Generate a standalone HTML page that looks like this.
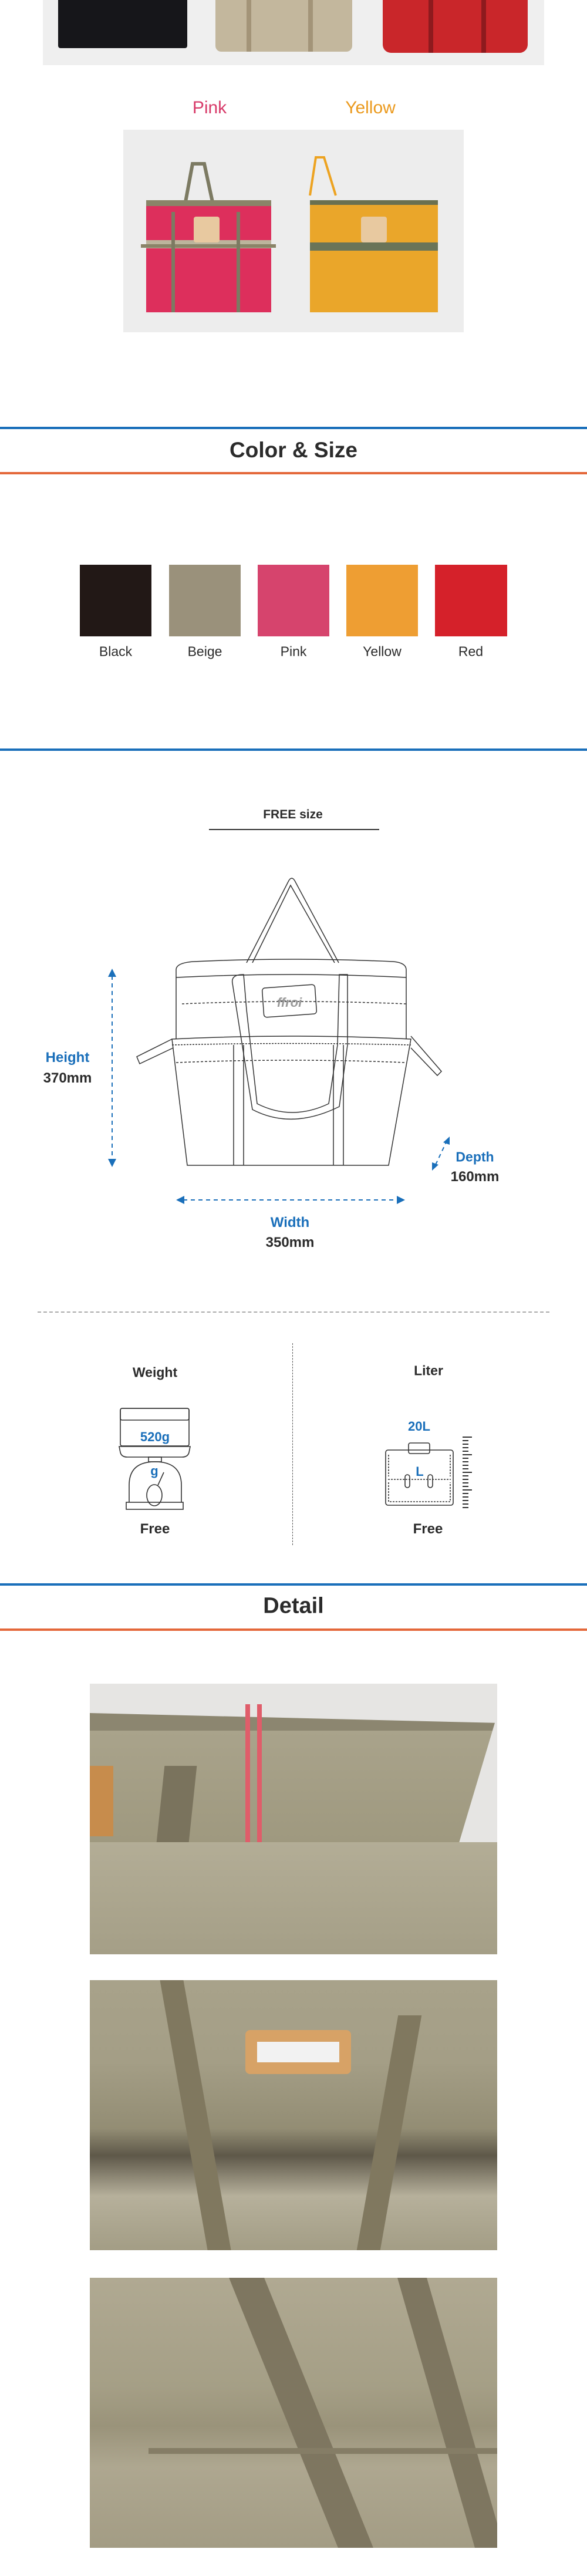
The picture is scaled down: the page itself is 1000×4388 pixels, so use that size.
<!DOCTYPE html>
<html><head><meta charset="utf-8">
<style>
*{margin:0;padding:0;box-sizing:border-box}
body{width:1000px;height:4388px;position:relative;background:#fff;font-family:"Liberation Sans",sans-serif;overflow:hidden}
.a{position:absolute}
.t{position:absolute;transform:translate(-50%,-50%);white-space:nowrap;font-weight:bold;color:#2b2b2b}
.hl{position:absolute;left:0;width:1000px;height:4px}
.blue{color:#1a6fba}
</style></head><body>

<!-- top photo strip -->
<div class="a" style="left:73px;top:0;width:854px;height:111px;background:#efefef"></div>
<div class="a" style="left:99px;top:0;width:220px;height:82px;background:#16161a;border-radius:0 0 4px 4px"></div>
<div class="a" style="left:367px;top:0;width:233px;height:88px;background:#c3b79d;border-radius:0 0 10px 10px"></div>
<div class="a" style="left:420px;top:0;width:8px;height:88px;background:#a39478"></div>
<div class="a" style="left:525px;top:0;width:8px;height:88px;background:#a39478"></div>
<div class="a" style="left:652px;top:0;width:247px;height:90px;background:#c9262a;border-radius:0 0 14px 14px"></div>
<div class="a" style="left:730px;top:0;width:8px;height:90px;background:#8e1a1e"></div>
<div class="a" style="left:820px;top:0;width:8px;height:90px;background:#8e1a1e"></div>

<div class="t" style="left:357px;top:184px;font-size:30px;font-weight:normal;color:#d83b6a">Pink</div>
<div class="t" style="left:631px;top:184px;font-size:30px;font-weight:normal;color:#eb9a1e">Yellow</div>

<div class="a" style="left:210px;top:221px;width:580px;height:345px;background:#ededed"></div>
<svg class="a" style="left:210px;top:221px" width="580" height="345">
  <path d="M106 123 L118 58 L138 58 L152 123" fill="none" stroke="#7c7a62" stroke-width="6"/>
  <rect x="39" y="123" width="213" height="188" fill="#dd2f5c"/>
  <rect x="39" y="120" width="213" height="10" fill="#8a8468"/>
  <rect x="39" y="188" width="213" height="14" fill="#bcb49c"/>
  <rect x="30" y="195" width="230" height="6" fill="#8a8468"/>
  <path d="M85 140 L85 311 M196 140 L196 311" stroke="#7c7a62" stroke-width="6"/>
  <rect x="120" y="148" width="44" height="44" rx="4" fill="#e8c9a0"/>
  <path d="M318 112 L328 47 L342 47 L362 112" fill="none" stroke="#eda321" stroke-width="4"/>
  <rect x="318" y="125" width="218" height="186" fill="#eaa62a"/>
  <rect x="318" y="120" width="218" height="8" fill="#6a7050"/>
  <rect x="318" y="192" width="218" height="14" fill="#6a7458"/>
  <rect x="405" y="148" width="44" height="44" rx="4" fill="#e8c9a0"/>
</svg>

<!-- Color & Size -->
<div class="hl" style="top:727px;background:#1a6fba"></div>
<div class="t" style="left:500px;top:767px;font-size:37px">Color &amp; Size</div>
<div class="hl" style="top:804px;background:#e4683a"></div>

<div class="a" style="left:136px;top:962px;width:122px;height:122px;background:#221816"></div>
<div class="a" style="left:288px;top:962px;width:122px;height:122px;background:#9a917b"></div>
<div class="a" style="left:439px;top:962px;width:122px;height:122px;background:#d6446d"></div>
<div class="a" style="left:590px;top:962px;width:122px;height:122px;background:#ee9e33"></div>
<div class="a" style="left:741px;top:962px;width:123px;height:122px;background:#d5212a"></div>
<div class="t" style="left:197px;top:1110px;font-size:23px;font-weight:normal">Black</div>
<div class="t" style="left:349px;top:1110px;font-size:23px;font-weight:normal">Beige</div>
<div class="t" style="left:500px;top:1110px;font-size:23px;font-weight:normal">Pink</div>
<div class="t" style="left:651px;top:1110px;font-size:23px;font-weight:normal">Yellow</div>
<div class="t" style="left:802px;top:1110px;font-size:23px;font-weight:normal">Red</div>

<div class="hl" style="top:1275px;background:#1a6fba"></div>

<!-- size -->
<div class="t" style="left:499px;top:1388px;font-size:21px">FREE size</div>
<div class="a" style="left:356px;top:1412px;width:290px;height:2px;background:#333"></div>

<svg class="a" style="left:0;top:1480px" width="1000" height="560">
  <g fill="none" stroke="#333" stroke-width="1.5">
    <path d="M420 160 L492 20 Q497 12 502 20 L577 160"/>
    <path d="M430 160 L495 28 L570 160"/>
    <path d="M300 172 Q300 160 330 158 Q497 150 670 158 Q692 160 692 172 L692 290"/>
    <path d="M300 185 Q497 175 692 185"/>
    <path d="M300 172 L300 290"/>
    <path d="M293 290 Q497 280 700 290 L662 505 L319 505 Z"/>
    <path d="M293 300 Q497 295 700 300" stroke-dasharray="3 2"/>
    <path d="M293 290 L233 320 L238 332 L295 305"/>
    <path d="M700 285 L752 345 L745 352 L700 305"/>
    <path d="M398 300 L398 505 M415 300 L415 505 M568 300 L568 505 M585 300 L585 505"/>
    <path d="M396 195 Q393 180 415 180 L420 240 L438 400 Q497 430 560 400 L575 300 L578 180 L592 180 L592 300 L578 405 Q497 445 430 410 Z"/>
    <rect x="448" y="200" width="90" height="50" rx="5" transform="rotate(-4 493 225)"/>
    <path d="M310 230 Q497 222 692 230" stroke-dasharray="4 3"/>
    <path d="M300 330 Q497 322 692 330" stroke-dasharray="4 3"/>
  </g>
  <text x="493" y="235" font-size="22" font-weight="bold" font-style="italic" fill="#999" text-anchor="middle" font-family="Liberation Sans">ffroi</text>
</svg>

<!-- arrows -->
<svg class="a" style="left:0;top:1600px" width="1000" height="480">
  <g stroke="#1a6fba" stroke-width="2" stroke-dasharray="7 6" fill="none">
    <line x1="191" y1="62" x2="191" y2="376"/>
    <line x1="312" y1="444" x2="678" y2="444"/>
    <line x1="742" y1="384" x2="760" y2="346"/>
  </g>
  <g fill="#1a6fba">
    <polygon points="191,50 184,64 198,64"/>
    <polygon points="191,388 184,374 198,374"/>
    <polygon points="300,444 314,437 314,451"/>
    <polygon points="690,444 676,437 676,451"/>
    <polygon points="766,336 755,346 766,350"/>
    <polygon points="736,394 736,380 747,384"/>
  </g>
</svg>
<div class="t blue" style="left:115px;top:1802px;font-size:24px">Height</div>
<div class="t" style="left:115px;top:1837px;font-size:24px">370mm</div>
<div class="t blue" style="left:809px;top:1971px;font-size:23px">Depth</div>
<div class="t" style="left:809px;top:2005px;font-size:24px">160mm</div>
<div class="t blue" style="left:494px;top:2083px;font-size:24px">Width</div>
<div class="t" style="left:494px;top:2117px;font-size:24px">350mm</div>

<div class="a" style="left:64px;top:2234px;width:872px;border-top:2px dashed #aaa"></div>
<div class="a" style="left:498px;top:2288px;height:344px;border-left:1.5px dashed #555"></div>

<div class="t" style="left:264px;top:2338px;font-size:23px">Weight</div>
<div class="t" style="left:730px;top:2335px;font-size:23px">Liter</div>

<svg class="a" style="left:0;top:2390px" width="1000" height="190">
  <g fill="none" stroke="#333" stroke-width="1.6">
    <rect x="205" y="9" width="117" height="64" rx="3"/>
    <rect x="205" y="9" width="117" height="20" rx="3"/>
    <path d="M203 74 L324 74 L322 84 Q320 92 310 92 L217 92 Q207 92 205 84 Z"/>
    <rect x="253" y="92" width="22" height="8"/>
    <path d="M220 169 L220 140 Q220 100 264 100 Q309 100 309 140 L309 169"/>
    <rect x="215" y="169" width="97" height="12"/>
    <ellipse cx="263" cy="157" rx="13" ry="18"/>
    <line x1="269" y1="140" x2="279" y2="118"/>
    <rect x="696" y="68" width="36" height="18" rx="3"/>
    <rect x="657" y="80" width="115" height="94" rx="4"/>
    <path d="M661 130 L768 130" stroke-dasharray="3 2"/>
    <path d="M662 88 L662 125 M767 88 L767 125" stroke-dasharray="3 2"/>
    <path d="M662 135 L662 168 L767 168 L767 135" stroke-dasharray="3 2"/>
    <rect x="690" y="122" width="8" height="22" rx="4"/>
    <rect x="729" y="122" width="8" height="22" rx="4"/>
  </g>
  <g stroke="#333" stroke-width="2">
    <path d="M788 58 H804 M788 64 H798 M788 70 H798 M788 76 H798 M788 82 H798 M788 88 H804 M788 94 H798 M788 100 H798 M788 106 H798 M788 112 H798 M788 118 H804 M788 124 H798 M788 130 H798 M788 136 H798 M788 142 H798 M788 148 H804 M788 154 H798 M788 160 H798 M788 166 H798 M788 172 H798 M788 178 H798"/>
  </g>
</svg>
<div class="t blue" style="left:264px;top:2448px;font-size:22px">520g</div>
<div class="t blue" style="left:263px;top:2506px;font-size:22px">g</div>
<div class="t blue" style="left:714px;top:2430px;font-size:22px">20L</div>
<div class="t blue" style="left:715px;top:2507px;font-size:22px">L</div>
<div class="t" style="left:264px;top:2605px;font-size:24px">Free</div>
<div class="t" style="left:729px;top:2605px;font-size:24px">Free</div>

<!-- Detail -->
<div class="hl" style="top:2697px;background:#1a6fba"></div>
<div class="t" style="left:500px;top:2736px;font-size:38px">Detail</div>
<div class="hl" style="top:2774px;background:#e4683a"></div>

<!-- photo 1 -->
<div class="a" style="left:153px;top:2868px;width:694px;height:461px;overflow:hidden;background:#e6e5e3">
  <div class="a" style="left:0;top:50px;width:690px;height:420px;background:linear-gradient(180deg,#8c8670 0,#8c8670 30px,#a9a38b 30px,#9d977d 60%,#b5af98 100%);clip-path:polygon(0 0,100% 4%,88% 70%,100% 75%,100% 100%,0 100%)"></div>
  <div class="a" style="left:110px;top:140px;width:55px;height:330px;background:#7a735d;transform:skewX(-6deg)"></div>
  <div class="a" style="left:0;top:140px;width:40px;height:120px;background:#c78c4c"></div>
  <div class="a" style="left:265px;top:35px;width:8px;height:290px;background:#e05d6a"></div>
  <div class="a" style="left:285px;top:35px;width:8px;height:290px;background:#e05d6a"></div>
  <div class="a" style="left:0;top:270px;width:694px;height:200px;background:linear-gradient(180deg,#b3ad96,#a49e86)"></div>
</div>
<!-- photo 2 -->
<div class="a" style="left:153px;top:3373px;width:694px;height:460px;overflow:hidden;background:linear-gradient(180deg,#a8a28a 0,#a49e86 30%,#938d74 55%,#5e5849 65%,#b6b09b 80%,#a39d85 100%)">
  <div class="a" style="left:265px;top:85px;width:180px;height:75px;border-radius:8px;background:#d7a266"></div>
  <div class="a" style="left:285px;top:105px;width:140px;height:35px;background:#f2f2f2"></div>
  <div class="a" style="left:160px;top:0;width:40px;height:460px;background:#80785f;transform:skewX(10deg)"></div>
  <div class="a" style="left:490px;top:60px;width:40px;height:400px;background:#80785f;transform:skewX(-10deg)"></div>
</div>
<!-- photo 3 -->
<div class="a" style="left:153px;top:3880px;width:694px;height:460px;overflow:hidden;background:linear-gradient(180deg,#b0a992 0,#a59f86 40%,#9a937a 55%,#aea790 70%,#a39c84 100%)">
  <div class="a" style="left:330px;top:-20px;width:60px;height:500px;background:#7e7660;transform:skewX(22deg)"></div>
  <div class="a" style="left:590px;top:-20px;width:50px;height:500px;background:#7e7660;transform:skewX(16deg)"></div>
  <div class="a" style="left:100px;top:290px;width:594px;height:10px;background:#857d66"></div>
</div>

</body></html>
